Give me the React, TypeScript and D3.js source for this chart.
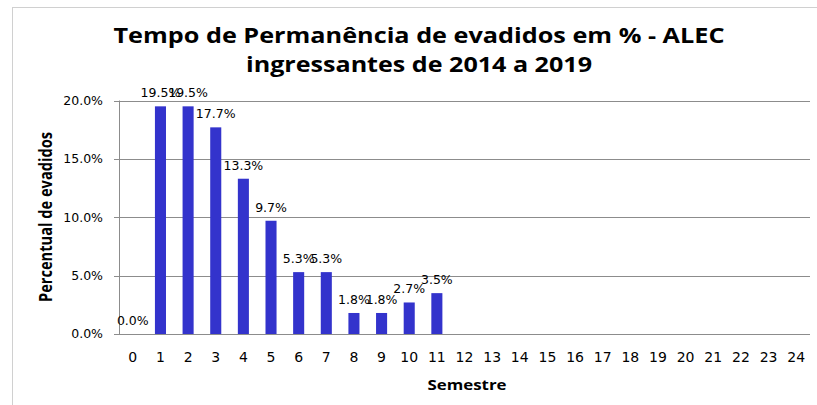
import React from 'react';
import * as d3 from 'd3';

const semestres = d3.range(0, 25).map(String);
const percentuais: (number | null)[] = [
  0.0, 19.5, 19.5, 17.7, 13.3, 9.7, 5.3, 5.3, 1.8, 1.8, 2.7, 3.5,
  null, null, null, null, null, null, null, null, null, null, null, null, null,
];
const yTicks = [0, 5, 10, 15, 20];
const titleLines = [
  'Tempo de Permanência de evadidos em % - ALEC',
  'ingressantes de 2014 a 2019',
];
const titleWidths = [611, 346];

const W = 817, H = 405;
const plot = { left: 119, right: 810, top: 100.5, bottom: 334 };
const labelFont = '"DejaVu Sans", sans-serif';
const boldFont = '"Open Sans", Lato, sans-serif';

export default function App() {
  const x = d3.scaleBand<string>()
    .domain(semestres)
    .range([plot.left, plot.right])
    .paddingInner(0.6)
    .paddingOuter(0.3);
  const y = d3.scaleLinear().domain([0, 20]).range([plot.bottom, plot.top]);

  const bars = semestres
    .map((s, i) => ({ s, v: percentuais[i] }))
    .filter(d => d.v !== null) as { s: string; v: number }[];

  return (
    <svg width={W} height={H} style={{ position: 'absolute', left: 0, top: 0, background: '#fff' }}>
      {/* chart frame */}
      <rect x={12.5} y={7.5} width={W} height={H} fill="none" stroke="#d0d0d0" strokeWidth={1} />

      {/* title */}
      {titleLines.map((t, i) => (
        <text key={i} x={419} y={43 + i * 29} textAnchor="middle"
          textLength={titleWidths[i]} lengthAdjust="spacingAndGlyphs"
          fontFamily={boldFont} fontWeight="bold" fontSize={22} fill="#000">{t}</text>
      ))}

      {/* gridlines + y ticks */}
      {yTicks.map(t => (
        <g key={t}>
          <line x1={plot.left - 5} x2={plot.right} y1={Math.round(y(t)) + 0.5} y2={Math.round(y(t)) + 0.5}
            stroke="#8c8c8c" strokeWidth={1} />
          <text x={103} y={y(t)} dy="0.35em" textAnchor="end" fontFamily={labelFont}
            fontSize={12.5} fill="#000">{t.toFixed(1)}%</text>
        </g>
      ))}
      <line x1={plot.left + 0.5} x2={plot.left + 0.5} y1={plot.top} y2={plot.bottom}
        stroke="#8c8c8c" strokeWidth={1} />

      {/* bars */}
      {bars.map(d => (
        <rect key={d.s} x={x(d.s)} y={y(d.v)} width={x.bandwidth()} height={y(0) - y(d.v)}
          fill="#3333cc" />
      ))}

      {/* data labels */}
      {bars.map(d => (
        <text key={'l' + d.s} x={(x(d.s) as number) + x.bandwidth() / 2} y={y(d.v) - 9}
          textAnchor="middle" fontFamily={labelFont} fontSize={12.5} fill="#000">
          {d.v.toFixed(1)}%
        </text>
      ))}

      {/* x tick labels */}
      {semestres.map(s => (
        <text key={'x' + s} x={(x(s) as number) + x.bandwidth() / 2} y={357.5} dy="0.35em"
          textAnchor="middle" fontFamily={labelFont} fontSize={14} fill="#000">{s}</text>
      ))}

      {/* axis titles */}
      <text x={467} y={390} textAnchor="middle" textLength={79} lengthAdjust="spacingAndGlyphs"
        fontFamily={boldFont} fontWeight="bold" fontSize={15} fill="#000">Semestre</text>
      <text transform={`translate(52,217) rotate(-90)`} textAnchor="middle"
        textLength={170} lengthAdjust="spacingAndGlyphs"
        fontFamily={boldFont} fontWeight="bold" fontSize={18} fill="#000">Percentual de evadidos</text>
    </svg>
  );
}
